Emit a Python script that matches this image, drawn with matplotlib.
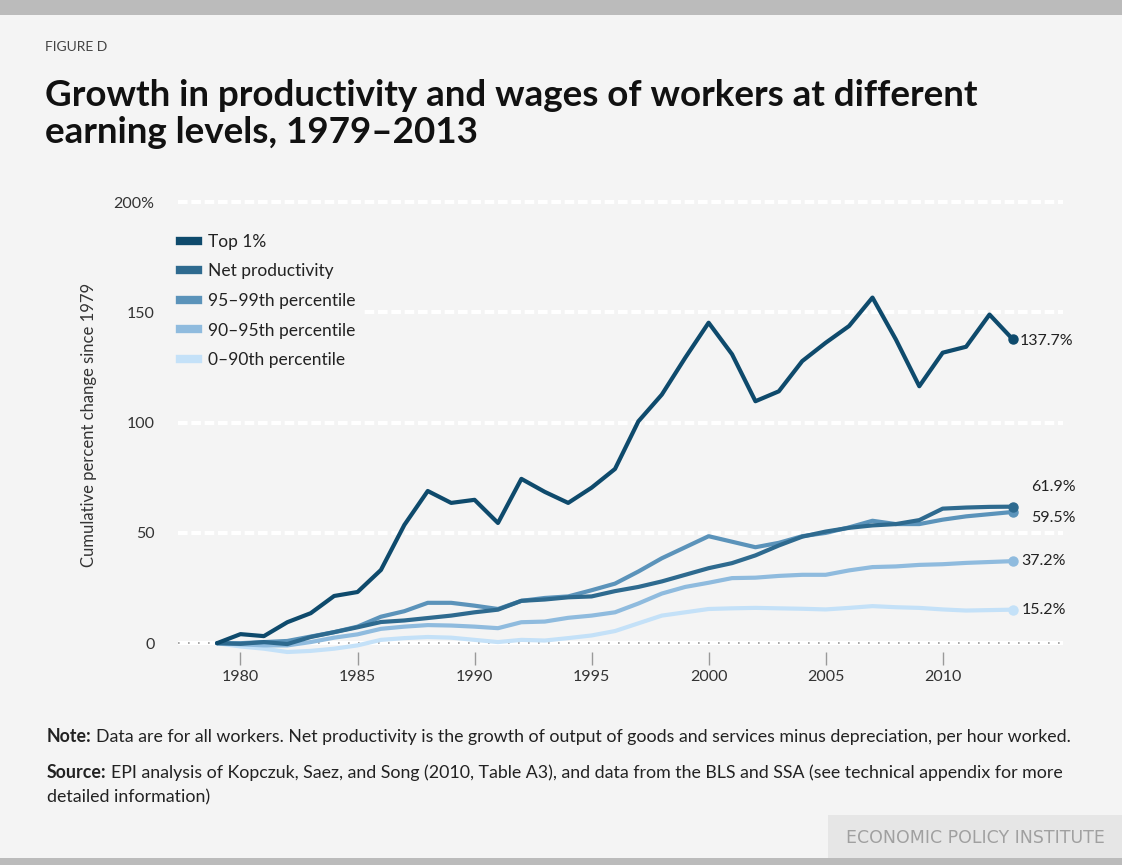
import matplotlib.pyplot as plt
from matplotlib.patches import Rectangle
from matplotlib.lines import Line2D

# cumulative percent change since 1979
years = list(range(1979, 2014))

top_1 = [0, 4.1, 3.2, 9.5, 13.6, 21.4, 23.2, 33.2, 53.6, 69.0,
         63.6, 65.0, 54.5, 74.5, 68.6, 63.6, 70.5, 79.0, 100.6, 112.7,
         129.4, 145.3, 131.0, 109.7, 114.2, 127.9, 136.2, 143.8, 156.7, 137.7,
         116.5, 131.7, 134.4, 149.0, 137.7]
net_productivity = [0, -0.3, 0.5, -0.4, 2.8, 5.0, 7.2, 9.6, 10.3, 11.4,
                    12.5, 14.0, 15.2, 19.2, 19.8, 20.8, 21.2, 23.6, 25.5, 28.0,
                    31.0, 34.0, 36.3, 39.8, 44.3, 48.3, 50.6, 52.3, 53.4, 54.0,
                    55.8, 61.0, 61.5, 61.8, 61.9]
pct_95_99 = [0, 0.0, 0.5, 1.0, 3.0, 5.0, 7.5, 12.0, 14.5, 18.3,
             18.3, 17.0, 15.5, 19.2, 20.5, 21.2, 24.0, 27.0, 32.5, 38.5,
             43.5, 48.5, 46.0, 43.5, 45.5, 48.5, 50.0, 52.5, 55.5, 54.0,
             54.0, 56.0, 57.5, 58.5, 59.5]
pct_90_95 = [0, -0.5, -1.0, -1.0, 0.5, 2.5, 4.0, 6.5, 7.5, 8.2,
             8.0, 7.5, 6.8, 9.5, 9.8, 11.5, 12.5, 14.0, 18.0, 22.5,
             25.5, 27.4, 29.5, 29.7, 30.5, 31.0, 31.0, 33.0, 34.5, 34.8,
             35.5, 35.8, 36.4, 36.8, 37.2]
pct_0_90 = [0, -1.5, -2.5, -4.0, -3.5, -2.5, -1.0, 1.5, 2.3, 2.8,
            2.5, 1.5, 0.5, 1.5, 1.2, 2.3, 3.5, 5.5, 9.0, 12.5,
            14.0, 15.5, 15.8, 16.0, 15.8, 15.6, 15.3, 16.0, 16.8, 16.3,
            16.0, 15.3, 14.8, 15.0, 15.2]

series_names = ["Top 1%", "Net productivity", "95\u201399th percentile",
                "90\u201395th percentile", "0\u201390th percentile"]
series_values = [top_1, net_productivity, pct_95_99, pct_90_95, pct_0_90]
colors = ["#0e4a6c", "#2e6a8f", "#5b93ba", "#8fbbde", "#c4e1f8"]
end_labels = ["137.7%", "61.9%", "59.5%", "37.2%", "15.2%"]
label_offsets = [(5, -1), (13, 14), (13, -4), (6, 0), (6, 0)]

W, H = 1122, 865
BG = "#f4f4f4"
TXT = "#222222"
plt.rcParams['font.family'] = ['Lato', 'DejaVu Sans']

fig = plt.figure(figsize=(W / 100, H / 100), dpi=100)
fig.patch.set_facecolor(BG)

# frame bars top and bottom
fig.add_artist(Rectangle((0, 1 - 15 / H), 1, 15 / H, transform=fig.transFigure,
                         color="#bbbbbb", lw=0))
fig.add_artist(Rectangle((0, 0), 1, 7 / H, transform=fig.transFigure,
                         color="#bbbbbb", lw=0))

fig.text(45 / W, 1 - 47 / H, "FIGURE D", fontsize=10, color="#444444", va="center")
fig.text(45 / W, 1 - 114 / H,
         "Growth in productivity and wages of workers at different\nearning levels, 1979\u20132013",
         fontsize=26.5, fontweight="bold", color="#111111", va="center", linespacing=1.15)

# plot area in pixels
left, right, top, bottom = 178, 1063, 197, 652
ax = fig.add_axes([left / W, 1 - bottom / H, (right - left) / W, (bottom - top) / H])
ax.set_facecolor(BG)
ax.set_xlim(1977.33, 2015.14)
ax.set_ylim(-4, 202.3)
for s in ax.spines.values():
    s.set_visible(False)

for v in [50, 100, 150, 200]:
    ax.axhline(v, color="white", lw=3, dashes=(2.3, 0.9), zorder=1)
ax.axhline(0, color="white", lw=3, zorder=1)
ax.axhline(0, color="#9a9a9a", lw=1.2, dashes=(1, 5), zorder=1.1)

for name, vals, c in zip(series_names[::-1], series_values[::-1], colors[::-1]):
    ax.plot(years, vals, color=c, lw=3, solid_capstyle="round",
            solid_joinstyle="round", clip_on=False, zorder=3, label=name)
    ax.plot(years[-1], vals[-1], "o", color=c, ms=6.5, clip_on=False, zorder=4)

for vals, lab, (dx, dy) in zip(series_values, end_labels, label_offsets):
    ax.annotate(lab, (years[-1], vals[-1]), xytext=(dx, dy), textcoords="offset points",
                fontsize=11.5, color=TXT, va="center", ha="left")

ax.set_xticks([1980, 1985, 1990, 1995, 2000, 2005, 2010])
ax.tick_params(axis="x", length=9, width=1, color="#999999", labelsize=11.5,
               labelcolor="#333333", pad=4)
ax.set_yticks([0, 50, 100, 150, 200])
ax.set_yticklabels(["0", "50", "100", "150", "200%"])
ax.tick_params(axis="y", length=0, labelsize=11.5, labelcolor="#333333", pad=17)
ax.set_ylabel("Cumulative percent change since 1979", fontsize=12, color="#333333",
              labelpad=12)

handles = [Line2D([0], [0], color=c, lw=6) for c in colors]
leg = ax.legend(handles, series_names, loc="upper left",
                bbox_to_anchor=((166 - left) / (right - left), 1 - (220 - top) / (bottom - top)),
                frameon=True, facecolor=BG, edgecolor=BG, framealpha=1,
                fontsize=12.5, handlelength=1.05, handletextpad=0.55,
                labelspacing=0.78, borderpad=0.3)
leg.set_zorder(5)
for t in leg.get_texts():
    t.set_color(TXT)

# footnotes: bold lead word followed by regular text
renderer = fig.canvas.get_renderer()


def footnote(y, lead, rest, size=12.8):
    x = 47 / W
    if lead:
        t = fig.text(x, 1 - y / H, lead, fontsize=size, fontweight="bold", color=TXT, va="center")
        bb = t.get_window_extent(renderer)
        x = (bb.x1 + 4) / W
    fig.text(x, 1 - y / H, rest, fontsize=size, color=TXT, va="center")


footnote(737, "Note:", "Data are for all workers. Net productivity is the growth of output of goods and services minus depreciation, per hour worked.")
footnote(773, "Source:", "EPI analysis of Kopczuk, Saez, and Song (2010, Table A3), and data from the BLS and SSA (see technical appendix for more")
footnote(797, "", "detailed information)")

fig.add_artist(Rectangle((828 / W, 7 / H), 1 - 828 / W, (858 - 815) / H,
                         transform=fig.transFigure, color="#e6e6e6", lw=0))
fig.text(975 / W, 1 - 838 / H, "ECONOMIC POLICY INSTITUTE", fontsize=12.5,
         color="#a0a0a0", ha="center", va="center", family="Liberation Sans Narrow")

fig.savefig("out.png", dpi=100, facecolor=BG)
